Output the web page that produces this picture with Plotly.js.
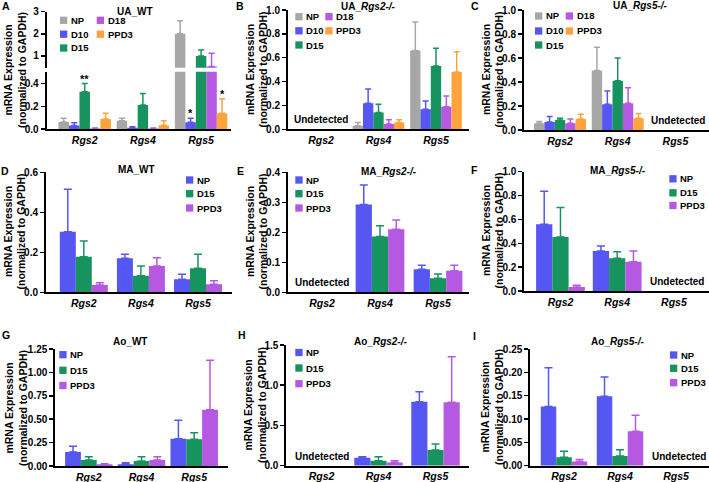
<!DOCTYPE html>
<html><head><meta charset="utf-8">
<script src="https://cdn.plot.ly/plotly-3.0.1.min.js"></script>
<style>html,body{margin:0;padding:0;background:#fff}#chart{width:709px;height:482px}</style>
</head><body><div id="chart"></div>
<script>
// ---------------- DATA ----------------
const genes = ['Rgs2', 'Rgs4', 'Rgs5'];
const uaSeries = ['NP', 'D10', 'D15', 'D18', 'PPD3'];
const maSeries = ['NP', 'D15', 'PPD3'];

// A: UA_WT  (rows = NP, D10, D15, D18, PPD3; cols = Rgs2, Rgs4, Rgs5)
const A_mean = [[0.062, 0.073, 2.00], [0.030, 0.011, 0.059], [0.327, 0.210, 1.00], [0.005, 0.005, 0.52], [0.088, 0.032, 0.138]];
const A_err  = [[0.032, 0.021, 0.59], [0.025, 0.009, 0.035], [0.073, 0.103, 0.27], [0.003, 0.003, 0.60], [0.050, 0.041, 0.125]];
// B: UA_Rgs2-/-
const B_mean = [[null, 0.030, 0.66], [null, 0.218, 0.168], [null, 0.140, 0.53], [null, 0.045, 0.19], [null, 0.056, 0.48]];
const B_err  = [[null, 0.028, 0.24], [null, 0.120, 0.070], [null, 0.070, 0.15], [null, 0.035, 0.09], [null, 0.025, 0.17]];
// C: UA_Rgs5-/-
const C_mean = [[0.056, 0.495, null], [0.067, 0.214, null], [0.083, 0.410, null], [0.056, 0.222, null], [0.092, 0.097, null]];
const C_err  = [[0.014, 0.195, null], [0.045, 0.110, null], [0.015, 0.190, null], [0.035, 0.130, null], [0.040, 0.040, null]];
// D: MA_WT  (rows = NP, D15, PPD3)
const D_mean = [[0.303, 0.170, 0.065], [0.178, 0.083, 0.120], [0.037, 0.132, 0.040]];
const D_err  = [[0.212, 0.020, 0.025], [0.079, 0.049, 0.070], [0.011, 0.041, 0.018]];
// E: MA_Rgs2-/-
const E_mean = [[null, 0.293, 0.077], [null, 0.186, 0.047], [null, 0.210, 0.072]];
const E_err  = [[null, 0.065, 0.013], [null, 0.036, 0.014], [null, 0.031, 0.018]];
// F: MA_Rgs5-/-
const F_mean = [[0.560, 0.335, null], [0.452, 0.274, null], [0.034, 0.245, null]];
const F_err  = [[0.277, 0.042, null], [0.248, 0.056, null], [0.014, 0.090, null]];
// G: Ao_WT
const G_mean = [[0.150, 0.018, 0.290], [0.064, 0.053, 0.285], [0.020, 0.064, 0.600]];
const G_err  = [[0.060, 0.017, 0.200], [0.036, 0.047, 0.071], [0.005, 0.036, 0.530]];
// H: Ao_Rgs2-/-
const H_mean = [[null, 0.100, 0.795], [null, 0.062, 0.195], [null, 0.040, 0.790]];
const H_err  = [[null, 0.010, 0.125], [null, 0.048, 0.075], [null, 0.020, 0.565]];
// I: Ao_Rgs5-/-
const I_mean = [[0.127, 0.149, null], [0.018, 0.021, null], [0.009, 0.074, null]];
const I_err  = [[0.083, 0.041, null], [0.013, 0.013, null], [0.0045, 0.034, null]];

const panelTitles = ['UA_WT', 'UA_<i>Rgs2-/-</i>', 'UA_<i>Rgs5-/-</i>',
                     'MA_WT', 'MA_<i>Rgs2-/-</i>', 'MA_<i>Rgs5-/-</i>',
                     'Ao_WT', 'Ao_<i>Rgs2-/-</i>', 'Ao_<i>Rgs5-/-</i>'];
const panelLetters = ['A', 'B', 'C', 'D', 'E', 'F', 'G', 'H', 'I'];
const undetectedGene = [null, 'Rgs2', 'Rgs5', null, 'Rgs2', 'Rgs5', null, 'Rgs2', 'Rgs5'];
// significance marks in panel A
const sigGene = ['Rgs2', 'Rgs5', 'Rgs5'];
const sigSeries = ['D15', 'D10', 'PPD3'];
const sigText = ['**', '*', '*'];

// ---------------- STYLE ----------------
const W = 709, H = 482;
const FONT = 'Liberation Sans, Arial, Helvetica, sans-serif';
const GRAY = '#a7a7a7', BLUE = '#5656f2', GREEN = '#17935f', PURPLE = '#b558e2', ORANGE = '#ffa33c';
const uaColors = [GRAY, BLUE, GREEN, PURPLE, ORANGE];
const maColors = [BLUE, GREEN, PURPLE];
const px = v => v / W;
const py = v => 1 - v / H;

// panel geometry (pixels) : axis left, right, top, bottom, y range, ticks
const panels = [
  {mean: A_mean, err: A_err, series: uaSeries, colors: uaColors, x0: 46.7, x1: 231, top: 71.7, bot: 129, yr: [0, 0.504], dt: 0.2, fmt: '.1f', xr: [-0.653, 2.514], grp: 0.9,
   title: [135, 11.7], letter: [6, 6], ytitle: [15, 70],
   leg: {sq: [60, 96.7], rows: [20.3, 34.2, 48]}},
  {mean: B_mean, err: B_err, series: uaSeries, colors: uaColors, x0: 288, x1: 469, top: 10, bot: 129.3, yr: [0, 1], dt: 0.2, fmt: '.1f', xr: [-0.574, 2.574], grp: 0.9,
   title: [368, 7], letter: [240.5, 6], ytitle: [256.5, 70],
   leg: {sq: [295.3, 325.3], rows: [16.7, 30.8, 45]}},
  {mean: C_mean, err: C_err, series: uaSeries, colors: uaColors, x0: 524, x1: 709, top: 10, bot: 130, yr: [0, 1], dt: 0.2, fmt: '.1f', xr: [-0.624, 2.582], grp: 0.9,
   title: [640, 6], letter: [475, 6.5], ytitle: [492.5, 70],
   leg: {sq: [535, 565.7], rows: [16, 31, 45]}},
  {mean: D_mean, err: D_err, series: maSeries, colors: maColors, x0: 46, x1: 231.7, top: 172.3, bot: 292.3, yr: [0, 0.6], dt: 0.2, fmt: '.1f', xr: [-0.662, 2.59], grp: 0.84,
   title: [136, 169.3], letter: [5, 170.5], ytitle: [14.5, 232],
   leg: {sq: [186], rows: [180, 193.7, 208]}},
  {mean: E_mean, err: E_err, series: maSeries, colors: maColors, x0: 288, x1: 469, top: 172.3, bot: 292.3, yr: [0, 0.4], dt: 0.1, fmt: '.1f', xr: [-0.586, 2.534], grp: 0.84,
   title: [389, 171.7], letter: [240.5, 171], ytitle: [256.5, 232],
   leg: {sq: [295.3], rows: [180, 193.7, 208]}},
  {mean: F_mean, err: F_err, series: maSeries, colors: maColors, x0: 524.3, x1: 709, top: 171.7, bot: 291, yr: [0, 1], dt: 0.2, fmt: '.1f', xr: [-0.638, 2.619], grp: 0.86,
   title: [617.5, 170], letter: [475, 169.5], ytitle: [492.5, 231],
   leg: {sq: [669.3], rows: [178.8, 192.8, 205.5]}},
  {mean: G_mean, err: G_err, series: maSeries, colors: maColors, x0: 55.3, x1: 228.3, top: 349, bot: 466, yr: [0, 1.25], dt: 0.25, fmt: '.2f', xr: [-0.636, 2.647], grp: 0.9,
   title: [130, 341.7], letter: [5.5, 335], ytitle: [16, 408],
   leg: {sq: [59.3], rows: [354.7, 370.3, 385.5]}},
  {mean: H_mean, err: H_err, series: maSeries, colors: maColors, x0: 286.3, x1: 469.3, top: 345, bot: 465.7, yr: [0, 1.5], dt: 0.5, fmt: '.1f', xr: [-0.618, 2.593], grp: 0.85,
   title: [380, 341], letter: [241.5, 335], ytitle: [255, 405],
   leg: {sq: [295.3], rows: [352.5, 368, 383.7]}},
  {mean: I_mean, err: I_err, series: maSeries, colors: maColors, x0: 530.3, x1: 709, top: 349, bot: 465.7, yr: [0, 0.25], dt: 0.05, fmt: '.2f', xr: [-0.602, 2.589], grp: 0.83,
   title: [617, 341.7], letter: [475, 336], ytitle: [492, 407],
   leg: {sq: [670], rows: [355, 368.3, 382.7]}}
];

const traces = [];
const layout = {
  width: W, height: H, margin: {l: 0, r: 0, t: 0, b: 0},
  paper_bgcolor: '#fff', plot_bgcolor: 'rgba(0,0,0,0)',
  barmode: 'overlay', showlegend: false,
  font: {family: FONT, color: '#000'},
  annotations: [], shapes: []
};

function yAxisStyle(extra) {
  return Object.assign({
    showline: true, linewidth: 2, linecolor: '#000', ticks: 'outside', ticklen: 4, tickwidth: 1.5, tickcolor: '#000',
    showgrid: false, zeroline: false, fixedrange: true,
    tickfont: {family: FONT, size: 10, weight: 'bold', color: '#000'}
  }, extra);
}

function addBars(p, xa, ya) {
  const n = p.series.length;
  const w = p.grp / n;
  p.series.forEach((s, i) => {
    traces.push({
      type: 'bar', x: genes, y: p.mean[i], xaxis: xa, yaxis: ya, name: s,
      width: w, offset: -p.grp / 2 + i * w,
      marker: {color: p.colors[i], line: {width: 0}},
      error_y: {type: 'data', symmetric: false, array: p.err[i], arrayminus: p.err[i].map(() => 0),
                color: p.colors[i], thickness: 1.5, width: n === 5 ? 3 : 4},
      hoverinfo: 'skip', showlegend: false
    });
  });
}

panels.forEach((p, k) => {
  const idx = k + 1;
  const xa = idx === 1 ? 'x' : 'x' + idx;
  const ya = idx === 1 ? 'y' : 'y' + idx;
  const xKey = idx === 1 ? 'xaxis' : 'xaxis' + idx;
  const yKey = idx === 1 ? 'yaxis' : 'yaxis' + idx;
  layout[xKey] = {
    domain: [px(p.x0), px(p.x1)], anchor: ya, type: 'category', categoryarray: genes, range: p.xr,
    showline: true, linewidth: 2, linecolor: '#000', ticks: '', showgrid: false, zeroline: false, fixedrange: true,
    tickfont: {family: FONT, size: 10.5, weight: 'bold', style: 'italic', color: '#000'}
  };
  layout[yKey] = yAxisStyle({
    domain: [py(p.bot), py(p.top)], anchor: xa, range: p.yr, tick0: 0, dtick: p.dt, tickformat: p.fmt
  });
  addBars(p, xa, ya);

  // panel title
  layout.annotations.push({xref: 'paper', yref: 'paper', x: px(p.title[0]), y: py(p.title[1]), xanchor: 'center', yanchor: 'middle',
    text: '<b>' + panelTitles[k] + '</b>', showarrow: false, font: {family: FONT, size: 10, color: '#000'}});
  // panel letter
  layout.annotations.push({xref: 'paper', yref: 'paper', x: px(p.letter[0]), y: py(p.letter[1]), xanchor: 'center', yanchor: 'middle',
    text: '<b>' + panelLetters[k] + '</b>', showarrow: false, font: {family: FONT, size: 10.5, color: '#000'}});
  // y-axis title
  layout.annotations.push({xref: 'paper', yref: 'paper', x: px(p.ytitle[0]), y: py(p.ytitle[1]), xanchor: 'center', yanchor: 'middle',
    textangle: -90, text: '<b>mRNA Expression<br>(normalized to GAPDH)</b>', showarrow: false,
    font: {family: FONT, size: 10.5, color: '#000'}});
  // undetected label
  if (undetectedGene[k]) {
    layout.annotations.push({xref: xa, yref: ya, x: genes.indexOf(undetectedGene[k]), y: 0, xanchor: 'center', yanchor: 'bottom',
      xshift: undetectedGene[k] === 'Rgs5' ? 3 : 0, yshift: 2,
      text: '<b>Undetected</b>', showarrow: false, font: {family: FONT, size: 10, color: '#000'}});
  }
  // legend (squares + labels)
  const perCol = 3, sq = 7.3;
  p.series.forEach((s, i) => {
    const col = Math.floor(i / perCol), row = i % perCol;
    const x0 = p.leg.sq[col], yc = p.leg.rows[row];
    layout.shapes.push({type: 'rect', xref: 'paper', yref: 'paper', x0: px(x0), x1: px(x0 + sq), y0: py(yc + sq / 2), y1: py(yc - sq / 2),
      fillcolor: p.colors[i], line: {width: 0}});
    layout.annotations.push({xref: 'paper', yref: 'paper', x: px(x0 + sq + 1.5), y: py(yc), xanchor: 'left', yanchor: 'middle',
      text: '<b>' + s + '</b>', showarrow: false, font: {family: FONT, size: 9.5, color: '#000'}});
  });
});

// Panel A upper segment of the broken axis (shares x axis of panel A)
const pA = panels[0];
layout.yaxis10 = yAxisStyle({domain: [py(67.7), py(11.7)], anchor: 'x', range: [0.47, 3], tickvals: [1, 2, 3], ticktext: ['1', '2', '3']});
addBars(pA, 'x', 'y10');

// significance asterisks in panel A
sigGene.forEach((g, j) => {
  const gi = genes.indexOf(g), si = uaSeries.indexOf(sigSeries[j]);
  const w = pA.grp / uaSeries.length;
  layout.annotations.push({xref: 'x', yref: 'y', x: gi - pA.grp / 2 + w * (si + 0.5), y: A_mean[si][gi] + A_err[si][gi],
    xanchor: 'center', yanchor: 'bottom', yshift: -3, text: '<b>' + sigText[j] + '</b>', showarrow: false,
    font: {family: FONT, size: 11, color: '#000'}});
});

Plotly.newPlot('chart', traces, layout, {displayModeBar: false, staticPlot: true});
</script>
</body></html>
